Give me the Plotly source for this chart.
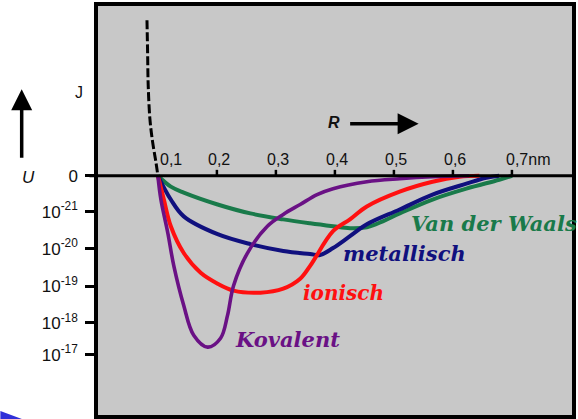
import plotly.graph_objects as go

# ---- data (R in nm, U in arbitrary log-like units; tick positions below) ----
rep_R = [0.0815, 0.0826, 0.0836, 0.0865, 0.0911, 0.0966, 0.1]
rep_U = [4.21, 3.32, 2.44, 1.53, 0.91, 0.375, 0.0]

vdw_R = [0.1, 0.1219, 0.1438, 0.2012, 0.2568, 0.3125, 0.358, 0.3968, 0.4255, 0.4541, 0.4811, 0.5098, 0.5654, 0.6228, 0.6784, 0.7003]
vdw_U = [0.0, -0.295, -0.456, -0.777, -1.019, -1.18, -1.287, -1.367, -1.421, -1.394, -1.233, -1.019, -0.643, -0.349, -0.107, 0.0]

met_R = [0.1, 0.1219, 0.1438, 0.2012, 0.2568, 0.3125, 0.358, 0.3749, 0.3968, 0.4255, 0.4541, 0.5098, 0.5654, 0.6228, 0.6565, 0.6784]
met_U = [0.0, -0.643, -1.099, -1.582, -1.85, -2.037, -2.118, -2.145, -1.957, -1.635, -1.314, -0.912, -0.509, -0.214, -0.054, 0.0]

ion_R = [0.1, 0.1101, 0.1219, 0.1438, 0.1725, 0.2012, 0.2282, 0.2737, 0.3125, 0.3411, 0.358, 0.3968, 0.4255, 0.4541, 0.5098, 0.5654, 0.611, 0.6447]
ion_U = [0.0, -0.643, -1.367, -2.091, -2.627, -2.922, -3.11, -3.164, -3.056, -2.788, -2.44, -1.501, -1.18, -0.831, -0.429, -0.161, -0.027, 0.0]

kov_R = [0.1, 0.1051, 0.1169, 0.127, 0.1438, 0.1607, 0.1843, 0.2062, 0.218, 0.2282, 0.2518, 0.2855, 0.3125, 0.3411, 0.3698, 0.3968, 0.4541, 0.5098, 0.5654, 0.6278]
kov_U = [0.0, -0.643, -1.555, -2.44, -3.512, -4.316, -4.638, -4.397, -3.78, -2.976, -2.091, -1.367, -1.046, -0.777, -0.509, -0.349, -0.161, -0.08, -0.027, 0.0]

x_ticks = [0.1, 0.2, 0.3, 0.4, 0.5, 0.6, 0.7]
x_tick_text = ["0,1", "0,2", "0,3", "0,4", "0,5", "0,6", "0,7nm"]
y_ticks = [0, -0.97, -1.97, -2.99, -3.98, -4.84]
y_tick_text = ["0", "10<sup>-21</sup>", "10<sup>-20</sup>", "10<sup>-19</sup>", "10<sup>-18</sup>", "10<sup>-17</sup>"]

labels = ["Van der Waals", "metallisch", "ionisch", "Kovalent"]
label_R = [0.5255, 0.4103, 0.3427, 0.2265]
label_U = [-1.28, -2.1, -3.17, -4.43]

C_VDW = "#197a4a"
C_MET = "#10107e"
C_ION = "#ff1010"
C_KOV = "#6a1185"

fig = go.Figure()

fig.add_trace(go.Scatter(x=rep_R, y=rep_U, mode="lines", line=dict(color="black", width=3, dash="9px,3px", shape="spline"), hoverinfo="skip"))
for R, U, c, w in [(vdw_R, vdw_U, C_VDW, 4), (met_R, met_U, C_MET, 4), (ion_R, ion_U, C_ION, 4), (kov_R, kov_U, C_KOV, 3.6)]:
    fig.add_trace(go.Scatter(x=R, y=U, mode="lines", line=dict(color=c, width=w, shape="spline", smoothing=1.0), hoverinfo="skip"))

# zero line
fig.add_shape(type="line", xref="x domain", yref="y", x0=-0.018, x1=1, y0=0, y1=0, line=dict(color="black", width=3))
# x ticks on zero line
for t in x_ticks[1:]:
    fig.add_shape(type="line", xref="x", yref="y", x0=t, x1=t, y0=0, y1=0.16, line=dict(color="black", width=2.5))
for t, s in zip(x_ticks, x_tick_text):
    fig.add_annotation(x=t, y=0, xref="x", yref="y", text=s, showarrow=False, xanchor="left" if s.endswith("nm") else "center",
                       xshift=-8 if s.endswith("nm") else (13 if t == 0.1 else 2), yanchor="bottom", yshift=6,
                       font=dict(family="Liberation Sans, Arial", size=16, color="#111"))

for s, R, U, c, fs in zip(labels, label_R, label_U, [C_VDW, C_MET, C_ION, C_KOV], [21, 21, 20, 21]):
    fig.add_annotation(x=R, y=U, xref="x", yref="y", text="<b><i>%s</i></b>" % s, showarrow=False, xanchor="left", yanchor="middle",
                       font=dict(family="DejaVu Serif", size=fs, color=c))

# axis labels and arrows
fig.add_annotation(xref="paper", yref="paper", x=-0.053, y=(415 - 89) / 413, text="J", showarrow=False, yanchor="middle",
                   font=dict(family="Liberation Sans, Arial", size=16, color="#111"))
fig.add_annotation(xref="paper", yref="paper", x=-0.164, y=(415 - 175) / 413, text="<i>U</i>", showarrow=False, yanchor="middle",
                   font=dict(family="Liberation Sans, Arial", size=17, color="#111"))
fig.add_annotation(xref="paper", yref="paper", x=-0.161, y=(415 - 86) / 413, ax=0, ay=70, text="", showarrow=True,
                   arrowhead=2, arrowsize=1.2, arrowwidth=3.5, arrowcolor="black")
fig.add_annotation(xref="paper", yref="paper", x=(335 - 98) / 476, y=(415 - 120) / 413, text="<b><i>R</i></b>", showarrow=False,
                   yanchor="middle", font=dict(family="Liberation Sans, Arial", size=16, color="#111"))
fig.add_annotation(xref="paper", yref="paper", x=(420 - 98) / 476, y=(415 - 121) / 413, ax=-70, ay=0, text="", showarrow=True,
                   arrowhead=2, arrowsize=1.2, arrowwidth=3.5, arrowcolor="black")

# blue decoration bottom-left
fig.add_shape(type="path", xref="paper", yref="paper", path="M -0.206 0.0097 L -0.206 -0.01 L -0.16 -0.01 Z",
              fillcolor="#3030d8", line=dict(width=0), layer="above")

fig.update_layout(
    width=578, height=419,
    margin=dict(l=98, r=4, t=2, b=4),
    paper_bgcolor="white", plot_bgcolor="#c8c8c8",
    showlegend=False,
    xaxis=dict(range=[-0.0015, 0.8018], showgrid=False, zeroline=False, showticklabels=False, ticks="",
               showline=True, linecolor="black", linewidth=3.5, mirror=True, fixedrange=True),
    yaxis=dict(range=[-6.475, 4.595], showgrid=False, zeroline=False, tickvals=y_ticks, ticktext=y_tick_text,
               ticks="outside", ticklen=9, tickwidth=3, tickcolor="black", ticklabelstandoff=4,
               tickfont=dict(family="Liberation Sans, Arial", size=17, color="#111"),
               showline=True, linecolor="black", linewidth=3.5, mirror=True, fixedrange=True),
)

fig.write_html("out.html", config={"displayModeBar": False},
               post_script="document.body.style.margin='0';document.body.style.overflow='hidden';")
